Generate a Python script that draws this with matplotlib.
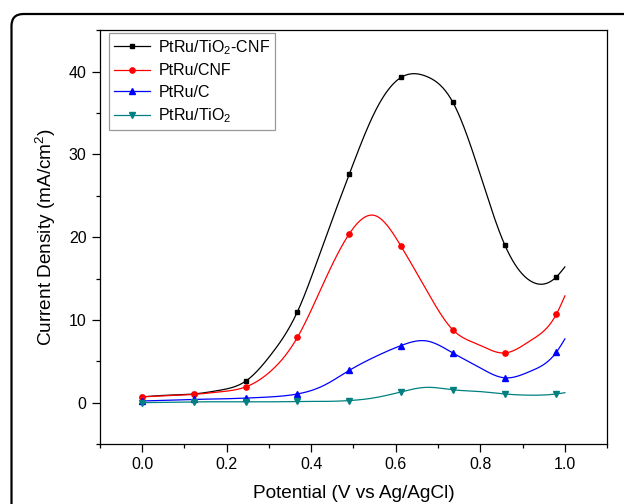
import numpy as np
import matplotlib
matplotlib.use('Agg')
from matplotlib import pyplot as plt
from matplotlib.patches import FancyBboxPatch
from matplotlib.ticker import MultipleLocator

plt.rcParams['font.family'] = ['Liberation Sans', 'DejaVu Sans']
plt.rcParams['mathtext.fontset'] = 'custom'
plt.rcParams['mathtext.rm'] = 'Liberation Sans'
plt.rcParams['mathtext.it'] = 'Liberation Sans:italic'

# potential (V vs Ag/AgCl); markers sit on every second point, last point has none
potential = [0.0, 0.06125, 0.1225, 0.18375, 0.245, 0.30625, 0.3675, 0.42875, 0.49,
             0.55125, 0.6125, 0.67375, 0.735, 0.79625, 0.8575, 0.91875, 0.98, 1.0]
# current density (mA/cm2)
j_tio2_cnf = [0.7, 0.9, 1.05, 1.5, 2.6, 5.9, 11.0, 19.2, 27.6,
              35.2, 39.3, 39.4, 36.3, 28.1, 19.1, 14.7, 15.2, 16.4]
j_cnf = [0.7, 0.85, 1.0, 1.3, 1.9, 3.9, 7.9, 14.4, 20.4,
         22.6, 18.9, 13.5, 8.8, 7.0, 6.0, 7.5, 10.7, 12.9]
j_c = [0.2, 0.3, 0.4, 0.45, 0.55, 0.7, 1.05, 2.05, 3.9,
       5.55, 6.9, 7.45, 6.0, 4.3, 3.0, 3.8, 6.1, 7.7]
j_tio2 = [0.0, 0.05, 0.1, 0.1, 0.1, 0.1, 0.15, 0.15, 0.25,
          0.6, 1.3, 1.85, 1.55, 1.35, 1.05, 0.9, 1.05, 1.2]

labels = ['PtRu/TiO$_2$-CNF', 'PtRu/CNF', 'PtRu/C', 'PtRu/TiO$_2$']
colors = ['black', 'red', 'blue', '#008080']
markers = ['s', 'o', '^', 'v']
sizes = [3.4, 3.8, 4.2, 4.2]


def natural_spline(x, y, xs):
    # natural cubic spline through (x, y), evaluated at xs
    x = np.asarray(x, float)
    y = np.asarray(y, float)
    n = len(x)
    h = np.diff(x)
    A = np.zeros((n, n))
    b = np.zeros(n)
    A[0, 0] = 1
    A[-1, -1] = 1
    for i in range(1, n - 1):
        A[i, i - 1] = h[i - 1]
        A[i, i] = 2 * (h[i - 1] + h[i])
        A[i, i + 1] = h[i]
        b[i] = 6 * ((y[i + 1] - y[i]) / h[i] - (y[i] - y[i - 1]) / h[i - 1])
    M = np.linalg.solve(A, b)
    k = np.clip(np.searchsorted(x, xs) - 1, 0, n - 2)
    hk = h[k]
    t1 = x[k + 1] - xs
    t0 = xs - x[k]
    return (M[k] * t1 ** 3 / (6 * hk) + M[k + 1] * t0 ** 3 / (6 * hk)
            + (y[k] / hk - M[k] * hk / 6) * t1
            + (y[k + 1] / hk - M[k + 1] * hk / 6) * t0)


fig = plt.figure(figsize=(6.24, 5.04), dpi=100)
ax = fig.add_axes([0.160, 0.119, 0.813, 0.821])

xs = np.linspace(potential[0], potential[-1], 500)
for ys, lab, c, m, ms in zip([j_tio2_cnf, j_cnf, j_c, j_tio2], labels, colors, markers, sizes):
    ax.plot(xs, natural_spline(potential, ys, xs), color=c, lw=0.9)
    ax.plot(potential[:-1:2], ys[:-1:2], ls='none', marker=m, color=c, ms=ms)
    # legend proxy
    ax.plot([], [], color=c, lw=0.9, marker=m, ms=ms, label=lab)

ax.set_xlim(-0.1, 1.1)
ax.set_ylim(-5, 45)
ax.xaxis.set_major_locator(MultipleLocator(0.2))
ax.xaxis.set_minor_locator(MultipleLocator(0.1))
ax.yaxis.set_major_locator(MultipleLocator(10))
ax.yaxis.set_minor_locator(MultipleLocator(5))
ax.tick_params(which='major', direction='out', length=6, width=0.9, labelsize=11.5)
ax.tick_params(which='minor', direction='out', length=3, width=0.9)
for s in ax.spines.values():
    s.set_linewidth(0.9)

ax.set_xlabel('Potential (V vs Ag/AgCl)', fontsize=13.7, labelpad=9)
ax.set_ylabel('Current Density (mA/cm$^2$)', fontsize=13.7, labelpad=8)

leg = ax.legend(loc='upper left', bbox_to_anchor=(0.018, 0.993), fontsize=11.5,
                fancybox=False, edgecolor='#808080', handlelength=2.3,
                labelspacing=0.42, borderpad=0.3, handletextpad=0.5,
                borderaxespad=0)
leg.get_frame().set_linewidth(0.9)

# rounded outer frame
frame = FancyBboxPatch((0.115, -0.5), 7.0, 5.4, boxstyle='round,pad=0,rounding_size=0.12',
                       transform=fig.dpi_scale_trans, fill=False, ec='black', lw=1.6,
                       clip_on=False)
fig.add_artist(frame)

fig.savefig('out.png', dpi=100)
